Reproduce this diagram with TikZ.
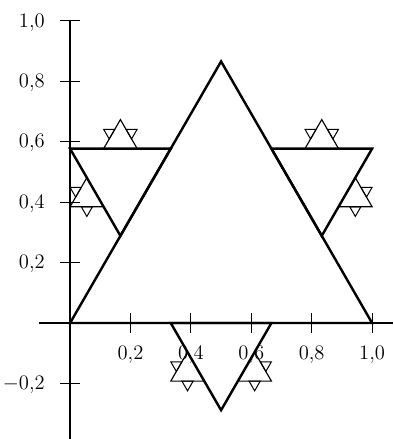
\documentclass[tikz,border=0pt]{standalone}
\usetikzlibrary{calc}
\newcommand\kochtri[5]{%
 \ifnum#1>0
 \begingroup
 \pgfmathsetmacro\kdx{((#4)-(#2))/3}%
 \pgfmathsetmacro\kdy{((#5)-(#3))/3}%
 \pgfmathsetmacro\pax{(#2)+\kdx}%
 \pgfmathsetmacro\pay{(#3)+\kdy}%
 \pgfmathsetmacro\pbx{(#2)+2*\kdx}%
 \pgfmathsetmacro\pby{(#3)+2*\kdy}%
 \pgfmathsetmacro\pcx{\pax+0.5*\kdx-0.8660254*\kdy}%
 \pgfmathsetmacro\pcy{\pay+0.8660254*\kdx+0.5*\kdy}%
 \draw[lvl#1] (\pax,\pay) -- (\pcx,\pcy) -- (\pbx,\pby) -- cycle;
 \edef\knext{\noexpand\kochtri{\the\numexpr#1-1\relax}{\pax}{\pay}{\pcx}{\pcy}%
   \noexpand\kochtri{\the\numexpr#1-1\relax}{\pcx}{\pcy}{\pbx}{\pby}}%
 \knext
 \endgroup
 \fi}
\begin{document}
\begin{tikzpicture}[x=211.4pt,y=211.4pt,
  axisline/.style={line width=1.7pt},
  tickline/.style={line width=0.7pt},
  lvl4/.style={line width=1.7pt},
  lvl3/.style={line width=1.7pt},
  lvl2/.style={line width=0.8pt},
  lvl1/.style={line width=0.7pt},
  lbl/.style={font=\fontsize{13.7}{16}\selectfont, inner sep=0pt}]
\useasboundingbox (-0.232,-0.384) rectangle (1.0695,1.0695);
% axes
\coordinate (xs) at (-0.103,0);
\coordinate (xe) at (1.0695,0);
\coordinate (ys) at (0,1.0);
\coordinate (ye) at (0,-0.384);
\draw[axisline] (xs) -- (xe);
\draw[axisline] (ys) -- (ye);
% x ticks
\foreach \v/\t in {0.2/0{,}2,0.4/0{,}4,0.6/0{,}6,0.8/0{,}8,1.0/1{,}0}{
  \draw[tickline] (\v,-0.033) -- (\v,0.033);
  \node[lbl, anchor=base] (xl\v) at (\v,-0.12) {$\t$};
}
% y ticks
\foreach \v/\t in {0.2/0{,}2,0.4/0{,}4,0.6/0{,}6,0.8/0{,}8,1.0/1{,}0,-0.2/-0{,}2}{
  \draw[tickline] (-0.033,\v) -- (0.033,\v);
  \node[lbl, anchor=base east] (yl\v) at (-0.083,\v-0.0205) {$\t$};
}
% fractal
\coordinate (A) at (0,0);
\coordinate (B) at (0.5,0.8660254);
\coordinate (C) at (1,0);
\draw[lvl4] (A) -- (B) -- (C) -- cycle;
\kochtri{3}{0}{0}{0.5}{0.8660254}
\kochtri{3}{0.5}{0.8660254}{1}{0}
\kochtri{3}{1}{0}{0}{0}
\end{tikzpicture}
\end{document}
